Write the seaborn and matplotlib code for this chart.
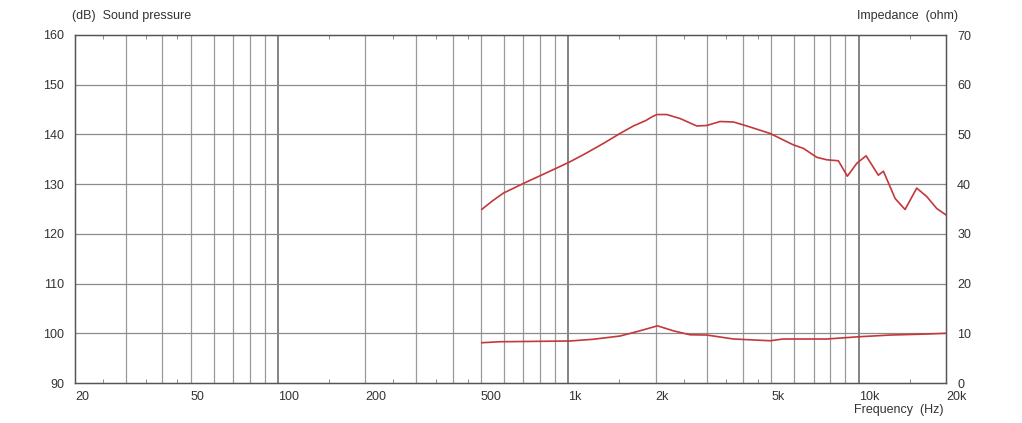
import numpy as np
import pandas as pd
import matplotlib
matplotlib.use("Agg")
import matplotlib.pyplot as plt
import seaborn as sns
from matplotlib.ticker import FixedLocator, NullFormatter

# Sound pressure curve (Hz, dB)
spl_freq = [503, 550, 598, 710, 850, 1014, 1150, 1322, 1508, 1676, 1850, 1950, 2018,
            2184, 2427, 2771, 3000, 3334, 3708, 4121, 4954, 5960, 6454, 7176, 7762,
            8517, 9148, 9860, 10612, 11696, 12172, 13364, 14456, 15856, 17172, 18580,
            20000]
spl_db = [124.9, 126.7, 128.2, 130.3, 132.4, 134.5, 136.2, 138.2, 140.2, 141.7, 142.8,
          143.6, 144.0, 144.0, 143.2, 141.7, 141.8, 142.6, 142.5, 141.7, 140.2, 137.9,
          137.2, 135.4, 134.9, 134.7, 131.6, 134.2, 135.7, 131.8, 132.6, 127.1, 124.9,
          129.2, 127.5, 125.1, 123.8]

# Impedance curve (Hz, ohm)
imp_freq = [503, 582, 1014, 1220, 1508, 1766, 2029, 2300, 2626, 3000, 3708, 4954,
            5500, 7762, 10000, 12900, 17172, 20000]
imp_ohm = [8.1, 8.3, 8.45, 8.8, 9.45, 10.5, 11.5, 10.5, 9.7, 9.65, 8.85, 8.5, 8.85,
           8.85, 9.3, 9.65, 9.85, 10.0]

x_ticks = [20, 50, 100, 200, 500, 1000, 2000, 5000, 10000, 20000]
x_labels = ["20", "50", "100", "200", "500", "1k", "2k", "5k", "10k", "20k"]
grid_freqs = [30, 40, 50, 60, 70, 80, 90, 100, 200, 300, 400, 500, 600, 700, 800, 900,
              1000, 2000, 3000, 4000, 5000, 6000, 7000, 8000, 9000, 10000]
minor_freqs = [25, 35, 45, 150, 250, 350, 450, 1500, 2500, 3500, 4500, 15000]
decades = [100, 1000, 10000]

sns.set_style("white")
plt.rcParams["font.family"] = ["Liberation Sans", "DejaVu Sans"]
plt.rcParams["font.size"] = 9

fig = plt.figure(figsize=(10.22, 4.23), dpi=100)
ax = fig.add_axes([75 / 1022, 1 - 383 / 423, 871 / 1022, 348 / 423])

spl = pd.DataFrame({"freq": spl_freq, "db": spl_db})
imp = pd.DataFrame({"freq": imp_freq, "ohm": imp_ohm})

red = "#c4373b"
sns.lineplot(data=spl, x="freq", y="db", ax=ax, color=red, linewidth=1.2)
ax.set_xscale("log")
ax.set_xlim(20, 20000)
ax.set_ylim(90, 160)
ax.set_yticks(range(90, 161, 10))

# grid
for f in grid_freqs:
    c = "#6e6e6e" if f in decades else "#9a9a9a"
    lw = 1.2 if f in decades else 0.9
    ax.axvline(f, color=c, lw=lw, zorder=0)
for y in range(100, 160, 10):
    ax.axhline(y, color="#8a8a8a", lw=0.9, zorder=0)

ax.xaxis.set_major_locator(FixedLocator(x_ticks))
ax.set_xticklabels(x_labels, ha="left")
ax.xaxis.set_minor_locator(FixedLocator(minor_freqs))
ax.xaxis.set_minor_formatter(NullFormatter())
ax.tick_params(axis="x", which="major", length=0, pad=6, colors="#333333", labelsize=9)
ax.tick_params(axis="x", which="minor", length=3, direction="in", top=True,
               bottom=True, color="#777777")
ax.tick_params(axis="y", length=0, pad=8, colors="#333333", labelsize=9)
ax.set_xlabel("")
ax.set_ylabel("")
for s in ax.spines.values():
    s.set_color("#555555")
    s.set_linewidth(1.0)

ax2 = ax.twinx()
sns.lineplot(data=imp, x="freq", y="ohm", ax=ax2, color=red, linewidth=1.2)
ax2.set_ylim(0, 70)
ax2.set_yticks(range(0, 71, 10))
ax2.tick_params(axis="y", length=0, pad=8, colors="#333333", labelsize=9)
ax2.set_ylabel("")
ax2.set_xlabel("")
for s in ax2.spines.values():
    s.set_color("#555555")

fig.text(72 / 1022, 1 - 16 / 423, "(dB)  Sound pressure", ha="left", va="center",
         fontsize=9, color="#333333")
fig.text(958 / 1022, 1 - 16 / 423, "Impedance  (ohm)", ha="right", va="center",
         fontsize=9, color="#333333")
fig.text(944 / 1022, 1 - 410 / 423, "Frequency  (Hz)", ha="right", va="center",
         fontsize=9, color="#333333")

fig.savefig("out.png", dpi=100)
